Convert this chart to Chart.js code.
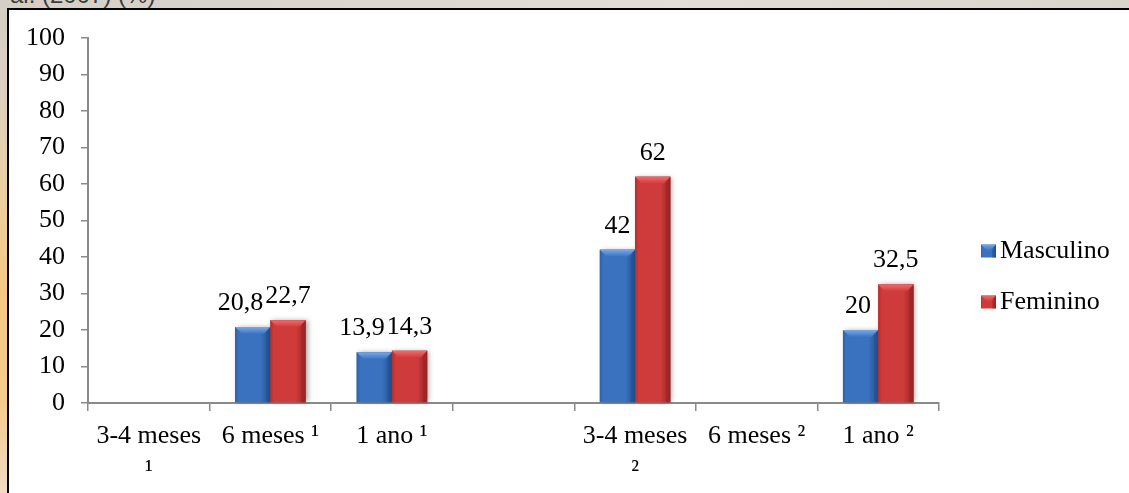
<!DOCTYPE html>
<html lang="pt">
<head>
<meta charset="utf-8">
<title>Masculino / Feminino</title>
<script src="https://cdn.jsdelivr.net/npm/chart.js@4.4.1/dist/chart.umd.min.js"></script>
<style>
  html, body { margin: 0; padding: 0; width: 100%; height: 100%; overflow: hidden; }
  body {
    position: relative;
    background: linear-gradient(to bottom, #d3ccc4 0%, #dcd0c0 18%, #ebcfa2 38%, #f5c883 60%, #f5cc8e 82%, #efdcc2 100%);
  }
  #topband {
    position: absolute; left: 0; top: 0; right: 0; height: 12px;
    background: linear-gradient(to right, #d5cec5 0%, #ddd6ce 30%, #e5ded6 60%, #dbd4cb 100%);
  }
  #caption {
    position: absolute; left: 10px; top: -17px;
    font: 24px 'Liberation Sans', Arial, sans-serif; line-height: 24px;
    color: #3c3c3c; white-space: nowrap;
  }
  #frame {
    position: absolute; left: 7px; top: 8px; right: -200px; bottom: -200px;
    background: #fff; border-left: 2px solid #000; border-top: 2px solid #000;
  }
  #chart { position: absolute; left: 0; top: 0; }
</style>
</head>
<body>
<div id="topband"></div>
<div id="caption">al. (2007) (%)</div>
<div id="frame"></div>
<canvas id="chart" width="1129" height="493"></canvas>
<script>
// Age groups (footnote marks ¹ and ² refer to the two source studies)
const categories = [["3-4 meses", "¹"], "6 meses ¹", "1 ano ¹", "", ["3-4 meses", "²"], "6 meses ²", "1 ano ²"];
const seriesNames = ["Masculino", "Feminino"];
const masculino = [null, 20.8, 13.9, null, 42, null, 20];
const feminino  = [null, 22.7, 14.3, null, 62, null, 32.5];
const yMin = 0;
const yMax = 100;
const yStep = 10;

// Bevel shading per series: flat body, lighter top face, darker right face
const palette = [
  { base: '#3a72c0', light: '#7aa8e8', dark: '#22508e', edge: '#2d60a6' },
  { base: '#cf3a3a', light: '#f06c6c', dark: '#992424', edge: '#b32e2e' }
];

const serif = "'Liberation Serif', 'Times New Roman', serif";
Chart.defaults.font.family = serif;
Chart.defaults.font.size = 26;
Chart.defaults.color = '#000';

function drawBevel(ctx, left, top, right, bottom, pal, b, shadow) {
  const w = right - left;
  ctx.save();
  if (shadow) {
    ctx.shadowColor = 'rgba(0,0,0,0.35)';
    ctx.shadowBlur = 5;
    ctx.shadowOffsetX = 2;
    ctx.shadowOffsetY = 0;
  }
  const g = ctx.createLinearGradient(left, 0, right, 0);
  g.addColorStop(0, pal.edge);
  g.addColorStop(0.1, pal.base);
  g.addColorStop(0.72, pal.base);
  g.addColorStop(1, pal.dark);
  ctx.fillStyle = g;
  ctx.fillRect(left, top, w, bottom - top);
  ctx.restore();

  const h = Math.min(b, (bottom - top));
  // top face
  ctx.save();
  const tg = ctx.createLinearGradient(0, top, 0, top + h);
  tg.addColorStop(0, pal.light);
  tg.addColorStop(1, pal.base);
  ctx.fillStyle = tg;
  ctx.beginPath();
  ctx.moveTo(left, top);
  ctx.lineTo(right, top);
  ctx.lineTo(right - h, top + h);
  ctx.lineTo(left + h, top + h);
  ctx.closePath();
  ctx.fill();
  // right face
  ctx.globalAlpha = 0.55;
  ctx.fillStyle = pal.dark;
  ctx.beginPath();
  ctx.moveTo(right, top);
  ctx.lineTo(right, bottom);
  ctx.lineTo(right - h * 0.6, bottom);
  ctx.lineTo(right - h * 0.6, top + h);
  ctx.closePath();
  ctx.fill();
  ctx.restore();
}

const fmt = v => String(v).replace('.', ',');

// Shaded bars and value labels above each bar
const barDecor = {
  id: 'barDecor',
  afterDatasetsDraw(chart) {
    const ctx = chart.ctx;
    const labels = [];
    chart.data.datasets.forEach((ds, i) => {
      const meta = chart.getDatasetMeta(i);
      meta.data.forEach((bar, j) => {
        const v = ds.data[j];
        if (v == null) return;
        const p = bar.getProps(['x', 'y', 'base', 'width'], true);
        drawBevel(ctx, p.x - p.width / 2, p.y, p.x + p.width / 2, p.base, palette[i], 7, true);
        (labels[j] = labels[j] || [])[i] = { text: fmt(v), x: p.x, y: p.y - 17 };
      });
    });
    ctx.save();
    ctx.font = '26px ' + serif;
    ctx.fillStyle = '#000';
    ctx.textAlign = 'center';
    ctx.textBaseline = 'alphabetic';
    labels.forEach(pair => {
      if (!pair) return;
      const a = pair[0], c = pair[1];
      if (a && c) {
        const wa = ctx.measureText(a.text).width;
        const wc = ctx.measureText(c.text).width;
        const overlap = (a.x + wa / 2 + 2) - (c.x - wc / 2);
        if (overlap > 0) a.x -= overlap;
      }
      pair.forEach(l => { if (l) ctx.fillText(l.text, l.x, l.y); });
    });
    ctx.restore();
  }
};

// Legend to the right of the plot
const sideLegend = {
  id: 'sideLegend',
  afterDraw(chart, args, opts) {
    const ctx = chart.ctx;
    const area = chart.chartArea;
    const x0 = area.right + opts.offsetX;
    const n = chart.data.datasets.length;
    const midY = opts.centerY;
    ctx.save();
    ctx.font = '26px ' + serif;
    ctx.textAlign = 'left';
    ctx.textBaseline = 'middle';
    chart.data.datasets.forEach((ds, i) => {
      const cy = midY + (i - (n - 1) / 2) * opts.rowGap;
      drawBevel(ctx, x0, cy - 6.5, x0 + 15, cy + 6.5, palette[i], 6, false);
      ctx.fillStyle = '#000';
      ctx.fillText(ds.label, x0 + 19, cy);
    });
    ctx.restore();
  }
};

new Chart(document.getElementById('chart'), {
  type: 'bar',
  data: {
    labels: categories,
    datasets: [
      { label: seriesNames[0], data: masculino, backgroundColor: palette[0].base },
      { label: seriesNames[1], data: feminino, backgroundColor: palette[1].base }
    ]
  },
  options: {
    responsive: false,
    animation: false,
    events: [],
    layout: { padding: { top: 38, right: 190, bottom: 0, left: 0 } },
    datasets: { bar: { categoryPercentage: 0.58, barPercentage: 1.0 } },
    plugins: {
      legend: { display: false },
      tooltip: { enabled: false },
      sideLegend: { offsetX: 42, centerY: 276.5, rowGap: 51 }
    },
    scales: {
      x: {
        offset: true,
        grid: { offset: true, drawOnChartArea: false, drawTicks: true, tickLength: 8, color: '#8a8a8a', lineWidth: 1.5 },
        border: { display: true, color: '#8a8a8a', width: 2 },
        ticks: {
          autoSkip: false, maxRotation: 0, minRotation: 0, padding: 8,
          font: { family: serif, size: 26, lineHeight: 1.35 }, color: '#000'
        },
        afterFit(scale) { scale.height = 90; }
      },
      y: {
        min: yMin, max: yMax,
        grid: { drawOnChartArea: false, drawTicks: true, tickLength: 7, color: '#8a8a8a', lineWidth: 1.5 },
        border: { display: true, color: '#8a8a8a', width: 2 },
        ticks: { stepSize: yStep, padding: 16, font: { family: serif, size: 26 }, color: '#000' },
        afterFit(scale) { scale.width = 88; }
      }
    }
  },
  plugins: [barDecor, sideLegend]
});
</script>
</body>
</html>
